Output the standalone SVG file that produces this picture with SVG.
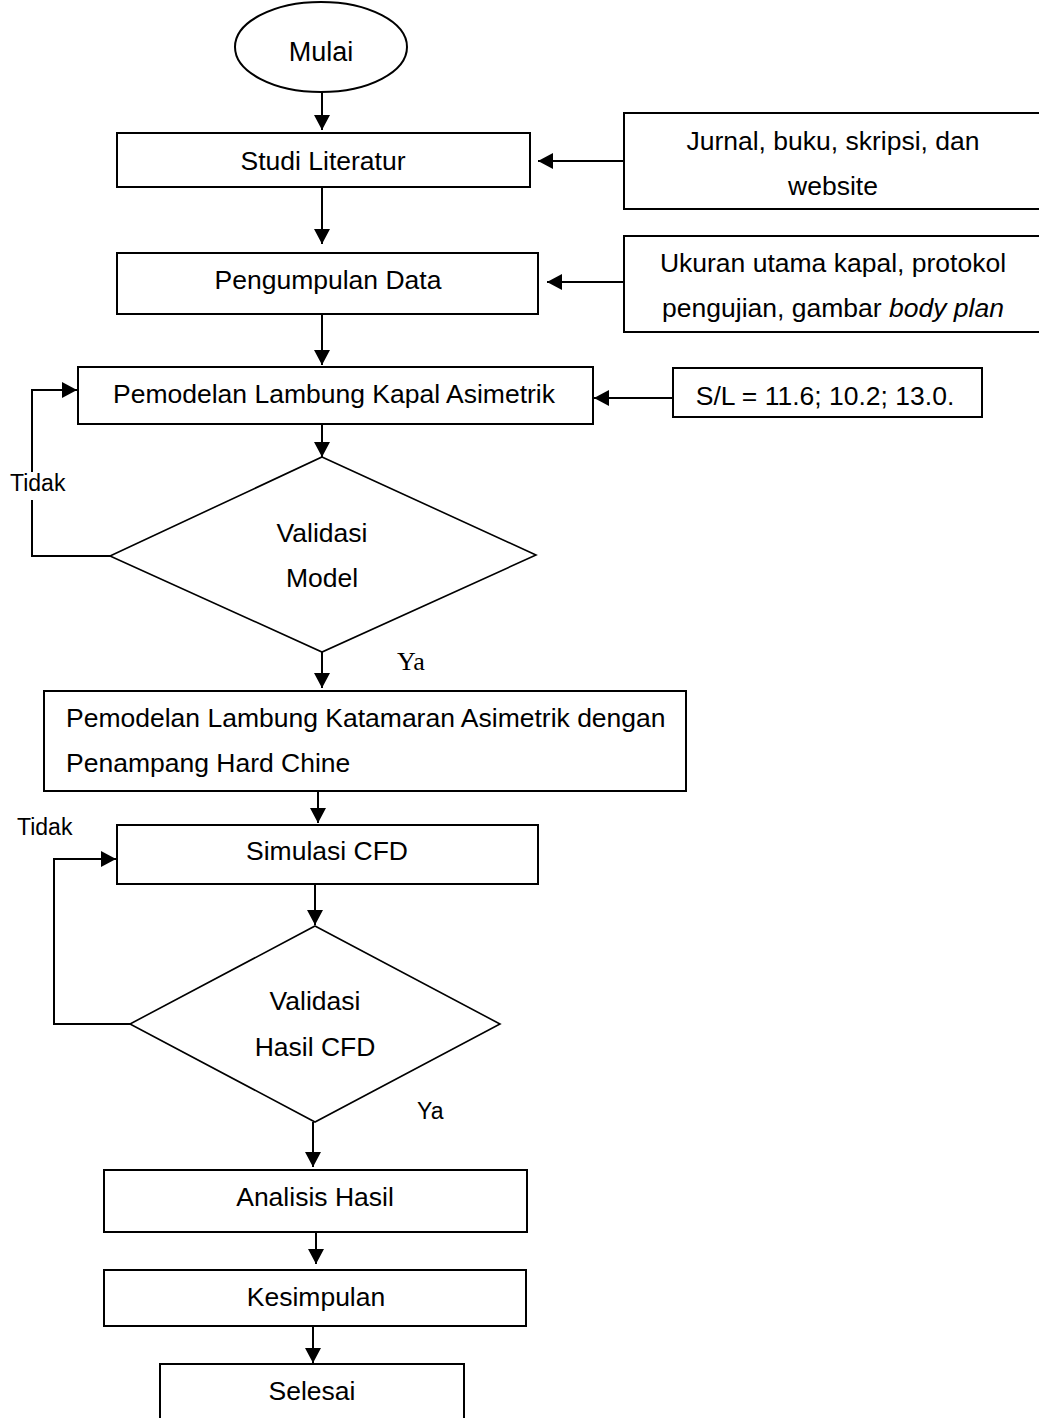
<svg xmlns="http://www.w3.org/2000/svg" width="1039" height="1418" viewBox="0 0 1039 1418">
<style>
.box{fill:#fff;stroke:#000;stroke-width:2}
.dia{fill:#fff;stroke:#000;stroke-width:1.6}
.t{font-family:"Liberation Sans",Arial,sans-serif;font-size:26.5px;fill:#000}
.c{text-anchor:middle}
.s{font-size:23px}
.ser{font-family:"Liberation Serif","Times New Roman",serif;font-size:26px;fill:#000}
.ln{fill:none;stroke:#000;stroke-width:2}
</style>
<defs>
<marker id="ah" markerUnits="userSpaceOnUse" markerWidth="16" markerHeight="16" refX="15" refY="8" orient="auto">
<path d="M0,0 L15,8 L0,16 z" fill="#000"/>
</marker>
</defs>
<rect width="1039" height="1418" fill="#fff"/>
<g id="connectors">
<path class="ln" d="M322,92 V130" marker-end="url(#ah)"/>
<path class="ln" d="M322,187 V244" marker-end="url(#ah)"/>
<path class="ln" d="M322,314 V365" marker-end="url(#ah)"/>
<path class="ln" d="M322,424 V457" marker-end="url(#ah)"/>
<path class="ln" d="M322,652 V688" marker-end="url(#ah)"/>
<path class="ln" d="M318,791 V823" marker-end="url(#ah)"/>
<path class="ln" d="M315,884 V925" marker-end="url(#ah)"/>
<path class="ln" d="M313,1122 V1167" marker-end="url(#ah)"/>
<path class="ln" d="M316,1232 V1264" marker-end="url(#ah)"/>
<path class="ln" d="M313,1326 V1363" marker-end="url(#ah)"/>
<path class="ln" d="M624,161 H538" marker-end="url(#ah)"/>
<path class="ln" d="M624,282 H547" marker-end="url(#ah)"/>
<path class="ln" d="M673,398 H594" marker-end="url(#ah)"/>
<path class="ln" d="M110,556 H32 V500"/>
<path class="ln" d="M32,472 V390 H77" marker-end="url(#ah)"/>
<path class="ln" d="M130,1024 H54 V859 H116" stroke="#444" stroke-width="1.6" marker-end="url(#ah)"/>
</g>
<g id="mulai">
<ellipse class="box" cx="321" cy="47" rx="86" ry="45"/>
<text class="t c" x="321" y="61" style="font-size:27px">Mulai</text>
</g>
<g id="studi">
<rect class="box" x="117" y="133" width="413" height="54"/>
<text class="t c" x="323" y="170">Studi Literatur</text>
</g>
<g id="jurnal">
<rect class="box" x="624" y="113" width="425" height="96"/>
<text class="t c" x="833" y="150">Jurnal, buku, skripsi, dan</text>
<text class="t c" x="833" y="195">website</text>
</g>
<g id="pengumpulan">
<rect class="box" x="117" y="253" width="421" height="61"/>
<text class="t c" x="328" y="289">Pengumpulan Data</text>
</g>
<g id="ukuran">
<rect class="box" x="624" y="236" width="425" height="96"/>
<text class="t c" x="833" y="272">Ukuran utama kapal, protokol</text>
<text class="t c" x="833" y="317">pengujian, gambar <tspan font-style="italic">body plan</tspan></text>
</g>
<g id="sl">
<rect class="box" x="673" y="368" width="309" height="49"/>
<text class="t c" x="825" y="405">S/L = 11.6; 10.2; 13.0.</text>
</g>
<g id="pemodelan-kapal">
<rect class="box" x="78" y="367" width="515" height="57"/>
<text class="t c" x="334" y="403">Pemodelan Lambung Kapal Asimetrik</text>
</g>
<g id="validasi-model">
<polygon class="dia" points="322,457 536,555 322,652 110,556"/>
<text class="t c" x="322" y="542">Validasi</text>
<text class="t c" x="322" y="587">Model</text>
</g>
<g id="label-tidak-1"><text class="t s" x="10" y="491">Tidak</text></g>
<g id="label-ya-1"><text class="ser" x="397" y="670">Ya</text></g>
<g id="pemodelan-katamaran">
<rect class="box" x="44" y="691" width="642" height="100"/>
<text class="t" x="66" y="727">Pemodelan Lambung Katamaran Asimetrik dengan</text>
<text class="t" x="66" y="772">Penampang Hard Chine</text>
</g>
<g id="label-tidak-2"><text class="t s" x="17" y="835">Tidak</text></g>
<g id="simulasi">
<rect class="box" x="117" y="825" width="421" height="59"/>
<text class="t c" x="327" y="860">Simulasi CFD</text>
</g>
<g id="validasi-cfd">
<polygon class="dia" points="315,926 500,1024 315,1122 130,1024"/>
<text class="t c" x="315" y="1010">Validasi</text>
<text class="t c" x="315" y="1056">Hasil CFD</text>
</g>
<g id="label-ya-2"><text class="t s" x="417" y="1119">Ya</text></g>
<g id="analisis">
<rect class="box" x="104" y="1170" width="423" height="62"/>
<text class="t c" x="315" y="1206">Analisis Hasil</text>
</g>
<g id="kesimpulan">
<rect class="box" x="104" y="1270" width="422" height="56"/>
<text class="t c" x="316" y="1306">Kesimpulan</text>
</g>
<g id="selesai">
<rect class="box" x="160" y="1364" width="304" height="70"/>
<text class="t c" x="312" y="1400">Selesai</text>
</g>
</svg>
